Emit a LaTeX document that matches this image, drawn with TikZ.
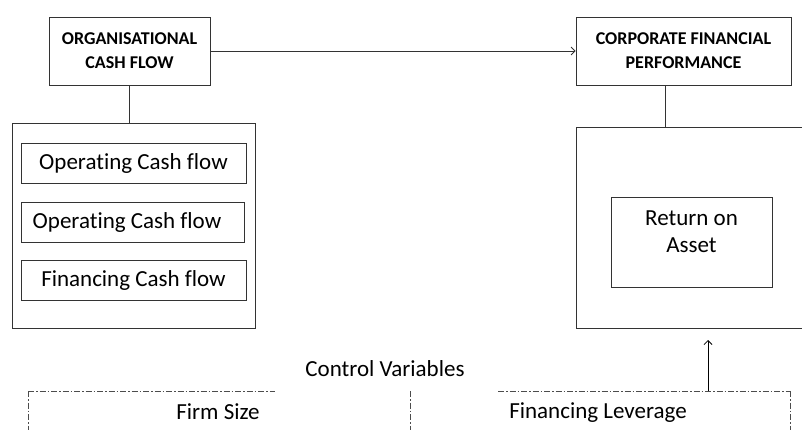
\documentclass[tikz,border=0pt]{standalone}
\usepackage{fontspec}
\setmainfont[Ligatures=NoCommon]{Carlito}
\usetikzlibrary{positioning,arrows.meta}

\begin{document}
\begin{tikzpicture}[x=1pt,y=-1pt,
        box/.style={draw=black!80,line width=0.8pt,inner sep=0pt,align=center},
        head/.style={box,font=\fontsize{18}{24}\selectfont\bfseries},
        item/.style={box,font=\fontsize{23}{27}\selectfont},
        label/.style={font=\fontsize{23}{27}\selectfont,align=center},
        link/.style={draw=black!80,line width=0.8pt},
        tip/.style={-{Straight Barb[length=4pt,width=8pt]}},
        ctrl/.style={draw=black!70,line width=0.8pt,dash pattern=on 6pt off 2pt on 1.5pt off 2pt}]
    \clip (0,0) rectangle (802,430);
    \useasboundingbox (0,0) rectangle (802,430);
    % headings
    \node[head,minimum width=161pt,minimum height=68pt] (org) at (129.5,51) {ORGANISATIONAL\\CASH FLOW};
    \node[head,minimum width=215pt,minimum height=68pt] (cfp) at (683.5,51) {CORPORATE FINANCIAL\\PERFORMANCE};
    % independent variables
    \node[box,minimum width=243pt,minimum height=205pt] (left) at (133.5,225.5) {};
    \node[item,minimum width=225pt,minimum height=40pt] (ocf) at (133.5,163) {Operating Cash flow};
    \node[item,minimum width=223pt,minimum height=40pt] (ocf2) at (132.5,222) {Operating Cash flow\hspace*{11pt}};
    \node[item,minimum width=225pt,minimum height=40pt] (fcf) at (133.5,280) {Financing Cash flow};
    % dependent variable
    \node[box,minimum width=236pt,minimum height=201pt] (right) at (694,227.5) {};
    \node[box,minimum width=161pt,minimum height=90pt] (roa) at (691.5,242) {};
    \node[label] (roatext) at ([yshift=10pt]roa.center) {Return on\\Asset};
    % connectors
    \draw[link] (org.south) -- (org.south |- left.north);
    \draw[link] (cfp.south -| 665,0) -- (665,0 |- right.north);
    \draw[link,tip] (org.east) -- (cfp.west);
    % control variables
    \node[label] (cv) at (385,369) {Control Variables};
    \node[label] (size) at (218,412) {Firm Size};
    \node[label] (lev) at (598,413) {Financing Leverage};
    \coordinate (tl) at (28,391);
    \coordinate (tr) at (790,391);
    \coordinate (mid) at (410,391);
    \draw[ctrl] (tl) -- (275,391);
    \draw[ctrl] (498,391) -- (tr);
    \draw[ctrl] (tl) -- (28,460);
    \draw[ctrl] (tr) -- (790,460);
    \draw[ctrl] (mid) -- (410,460);
    \coordinate (up) at (708,391);
    \coordinate (top) at (708,340);
    \draw[link,black,tip] (up) -- (top);
\end{tikzpicture}
\end{document}
